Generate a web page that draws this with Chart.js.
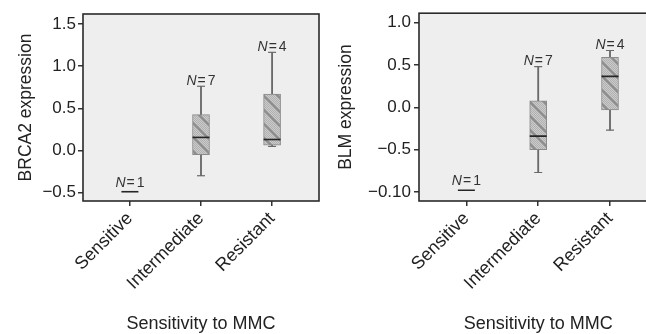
<!DOCTYPE html>
<html>
<head>
<meta charset="utf-8">
<script src="https://cdn.jsdelivr.net/npm/chart.js@4"></script>
<style>
html,body{margin:0;padding:0;background:#fff;overflow:hidden;width:646px;height:334px}
.wrap{position:absolute;top:0}
</style>
</head>
<body>
<div class="wrap" style="left:0"><canvas id="left" width="330" height="334"></canvas></div>
<div class="wrap" style="left:330px"><canvas id="right" width="340" height="334"></canvas></div>
<script>
/* ===== data ===== */
const categories = ["Sensitive","Intermediate","Resistant"];
const nCounts = [1,7,4];
const xTitle = "Sensitivity to MMC";

// BRCA2 panel
const brca2Low    = [-0.49,-0.30,0.048];
const brca2Q1     = [-0.49,-0.05,0.063];
const brca2Median = [-0.49,0.155,0.13];
const brca2Q3     = [-0.49,0.425,0.67];
const brca2High   = [-0.49,0.762,1.165];
const brca2Ticks  = [-0.5,0,0.5,1,1.5];
const brca2TickLabels = ["\u22120.5","0.0","0.5","1.0","1.5"];

// BLM panel
const blmLow    = [-0.98,-0.77,-0.27];
const blmQ1     = [-0.98,-0.50,-0.03];
const blmMedian = [-0.98,-0.34,0.365];
const blmQ3     = [-0.98,0.075,0.59];
const blmHigh   = [-0.98,0.48,0.67];
const blmTicks  = [-1,-0.5,0,0.5,1];
const blmTickLabels = ["\u22120.10","\u22120.5","0.0","0.5","1.0"];

/* ===== style ===== */
const FONT = "'Liberation Sans', Arial, sans-serif";
const TXT = "#222";

function hatch(){
 const c=document.createElement("canvas");
 c.width=c.height=14;
 const g=c.getContext("2d");
 g.fillStyle="#cbcbcb";g.fillRect(0,0,14,14);
 g.fillStyle="#b0b0b0";
 for(let y=0;y<14;y++)for(let x=(y%2);x<14;x+=2)g.fillRect(x,y,1,1);
 g.strokeStyle="#8c8c8c";g.lineWidth=2.2;
 g.beginPath();
 g.moveTo(-2,-2);g.lineTo(16,16);
 g.moveTo(-9,5);g.lineTo(2,16);
 g.moveTo(12,-2);g.lineTo(16,2);
 g.stroke();
 return g.createPattern(c,"repeat");
}
const boxFill = hatch();

/* ===== plugin: panel background, frame, N labels ===== */
const panelPlugin={
 id:"panel",
 beforeDatasetsDraw(chart){
  const {ctx,chartArea:a}=chart;
  ctx.save();
  ctx.fillStyle="#eeeeee";
  ctx.fillRect(a.left,a.top,a.width,a.height);
  ctx.restore();
 },
 afterDatasetsDraw(chart,args,o){
  const {ctx,chartArea:a,scales}=chart;
  ctx.save();
  ctx.strokeStyle="#2a2a2a";ctx.lineWidth=1.6;
  ctx.strokeRect(a.left,a.top,a.width,a.height);
  ctx.fillStyle="#333";
  ctx.textBaseline="alphabetic";
  ctx.textAlign="left";
  o.high.forEach((h,i)=>{
   const single = o.high[i]===o.low[i];
   const x=scales.x.getPixelForValue(i+1);
   const y=scales.y.getPixelForValue(h)-(single?5:1.5);
   const num=String(nCounts[i]);
   ctx.font="italic 14px "+FONT;
   const wN=ctx.measureText("N").width;
   ctx.font="14px "+FONT;
   const wE=ctx.measureText("=").width, wD=ctx.measureText(num).width;
   const total=wN+1+wE+2+wD;
   let x0=x-total/2;
   ctx.font="italic 14px "+FONT;
   ctx.fillText("N",x0,y);
   ctx.font="14px "+FONT;
   ctx.fillText("=",x0+wN+1,y);
   ctx.fillText(num,x0+wN+1+wE+2,y);
  });
  ctx.restore();
 }
};

function makeChart(id,d){
 const whiskers=[],boxes=[],caps=[],medians=[];
 categories.forEach((c,i)=>{
  const x=i+1;
  if(d.high[i]>d.low[i]){
   whiskers.push({x,y:[d.low[i],d.high[i]]});
   caps.push({x,y:d.low[i]},{x,y:d.high[i]});
  }
  if(d.q3[i]>d.q1[i]) boxes.push({x,y:[d.q1[i],d.q3[i]]});
  medians.push({x,y:d.median[i]});
 });

 return new Chart(document.getElementById(id),{
  type:"bar",
  data:{datasets:[
   {type:"scatter",data:medians,pointStyle:"line",pointRadius:8.5,pointHoverRadius:8.5,
    pointBorderColor:"#262626",pointBackgroundColor:"#262626",pointBorderWidth:1.6,order:1},
   {type:"scatter",data:caps,pointStyle:"line",pointRadius:4,pointHoverRadius:4,
    pointBorderColor:"#6a6a6a",pointBackgroundColor:"#6a6a6a",pointBorderWidth:1.2,order:2},
   {type:"bar",data:boxes,backgroundColor:boxFill,borderColor:"#8a8a8a",borderWidth:1,
    borderSkipped:false,barThickness:17,grouped:false,order:3},
   {type:"bar",data:whiskers,backgroundColor:"#6a6a6a",borderWidth:0,
    barThickness:1.2,grouped:false,order:4}
  ]},
  options:{
   responsive:false,animation:false,events:[],
   layout:{padding:{top:d.padTop,right:d.padRight,left:0,bottom:0}},
   plugins:{legend:{display:false},tooltip:{enabled:false},
    panel:{high:d.high,low:d.low}},
   scales:{
    x:{type:"linear",min:0.34,max:3.66,offset:false,
     afterBuildTicks:s=>{s.ticks=categories.map((c,i)=>({value:i+1}))},
     afterFit:s=>{s.height=133},
     ticks:{callback:v=>categories[v-1],autoSkip:false,minRotation:45,maxRotation:45,
      font:{family:FONT,size:18},color:TXT,padding:2},
     grid:{offset:false,drawOnChartArea:false,drawTicks:true,tickLength:5,color:"#333",lineWidth:1.5},
     border:{display:false},
     title:{display:true,text:xTitle,font:{family:FONT,size:18,lineHeight:1.1},color:TXT,padding:{top:0,bottom:0}}
    },
    y:{min:d.yMin,max:d.yMax,
     afterBuildTicks:s=>{s.ticks=d.ticks.map(v=>({value:v}))},
     afterFit:s=>{s.width=d.axisWidth},
     ticks:{callback:v=>d.tickLabels[d.ticks.indexOf(v)],font:{family:FONT,size:17},color:TXT,padding:d.tickPad},
     grid:{drawOnChartArea:false,drawTicks:true,tickLength:5,color:"#333",lineWidth:1.5},
     border:{display:false},
     title:{display:true,text:d.yTitle,font:{family:FONT,size:17.5},color:TXT,padding:{top:d.titlePad,bottom:0}}
    }
   }
  },
  plugins:[panelPlugin]
 });
}

makeChart("left",{low:brca2Low,q1:brca2Q1,median:brca2Median,q3:brca2Q3,high:brca2High,
 yMin:-0.6,yMax:1.62,ticks:brca2Ticks,tickLabels:brca2TickLabels,yTitle:"BRCA2 expression",
 axisWidth:83,padTop:14,padRight:11,titlePad:16,tickPad:2});

makeChart("right",{low:blmLow,q1:blmQ1,median:blmMedian,q3:blmQ3,high:blmHigh,
 yMin:-1.106,yMax:1.11,ticks:blmTicks,tickLabels:blmTickLabels,yTitle:"BLM expression",
 axisWidth:89,padTop:12.7,padRight:12.6,titlePad:6,tickPad:3});
</script>
</body>
</html>
